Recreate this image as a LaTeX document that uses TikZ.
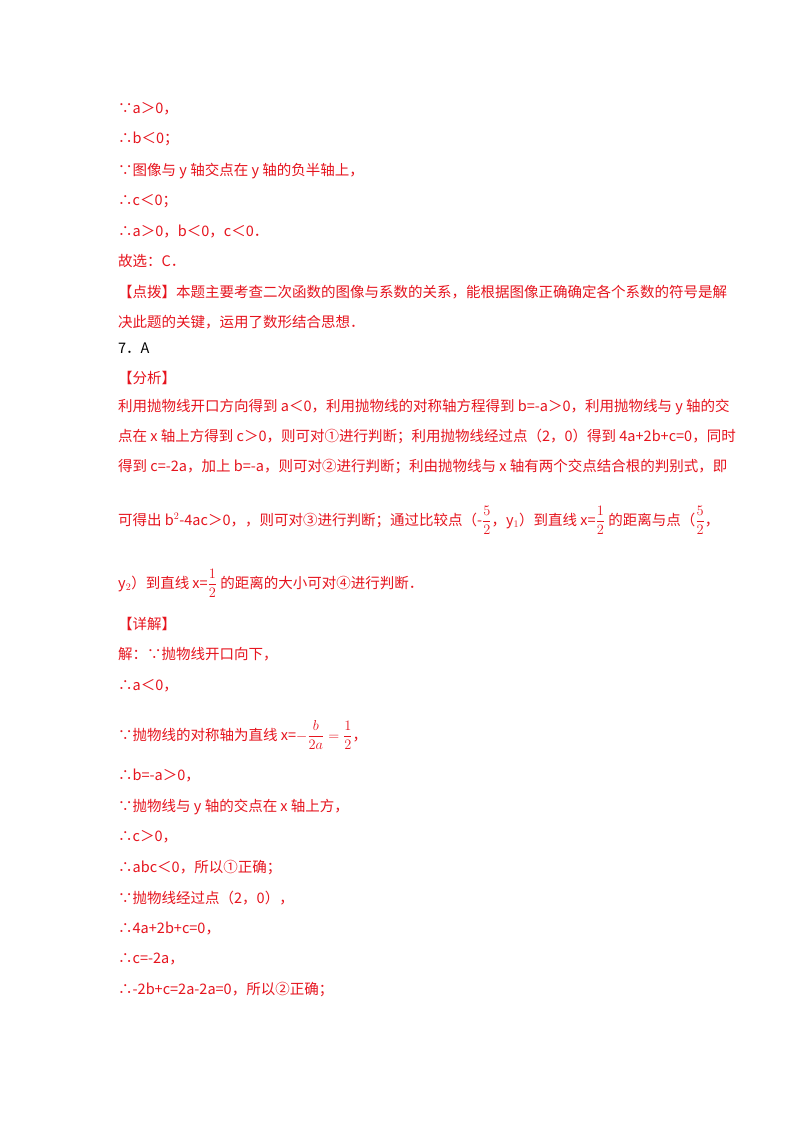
\documentclass[tikz,border=0pt]{standalone}
\usepackage{fontspec}
\setmainfont{Noto Sans CJK SC}
\definecolor{rd}{RGB}{230,20,30}
\begin{document}
\begin{tikzpicture}[x=1pt,y=-1pt,
  ln/.style={anchor=base west,inner sep=0pt,font=\fontsize{14.5}{16}\selectfont,text=rd},
  bk/.style={ln,text=black}]
\useasboundingbox[fill=white] (0,0) rectangle (800,1132);
\node[ln] (l1) at (118,113) {∵a＞0，};
\node[ln] (l2) at (118,143) {∴b＜0；};
\node[ln] (l3) at (118,175) {∵图像与 y 轴交点在 y 轴的负半轴上，};
\node[ln] (l4) at (118,205) {∴c＜0；};
\node[ln] (l5) at (118,236) {∴a＞0，b＜0，c＜0．};
\node[ln] (l6) at (118,266) {故选：C．};
\node[ln] (l7) at (118,297) {【点拨】本题主要考查二次函数的图像与系数的关系，能根据图像正确确定各个系数的符号是解};
\node[ln] (l8) at (118,327) {决此题的关键，运用了数形结合思想．};
\node[bk] (l9) at (118,353) {7．A};
\node[ln] (l10) at (118,383) {【分析】};
\node[ln] (l11) at (118,411) {利用抛物线开口方向得到 a＜0，利用抛物线的对称轴方程得到 b=-a＞0，利用抛物线与 y 轴的交};
\node[ln] (l12) at (118,441) {点在 x 轴上方得到 c＞0，则可对①进行判断；利用抛物线经过点（2，0）得到 4a+2b+c=0，同时};
\node[ln] (l13) at (118,471) {得到 c=-2a，加上 b=-a，则可对②进行判断；利由抛物线与 x 轴有两个交点结合根的判别式，即};
\node[ln] (l14) at (118,525) {可得出 b$^2$-4ac＞0，，则可对③进行判断；通过比较点（-$\displaystyle\frac{5}{2}$，y$_1$）到直线 x=$\displaystyle\frac{1}{2}$ 的距离与点（$\displaystyle\frac{5}{2}$，};
\node[ln] (l15) at (118,588) {y$_2$）到直线 x=$\displaystyle\frac{1}{2}$ 的距离的大小可对④进行判断．};
\node[ln] (l16) at (118,629) {【详解】};
\node[ln] (l17) at (118,659) {解：∵抛物线开口向下，};
\node[ln] (l18) at (118,690) {∴a＜0，};
\node[ln] (l19) at (118,740) {∵抛物线的对称轴为直线 x=$-\displaystyle\frac{b}{2a}=\frac{1}{2}$，};
\node[ln] (l20) at (118,780) {∴b=-a＞0，};
\node[ln] (l21) at (118,811) {∵抛物线与 y 轴的交点在 x 轴上方，};
\node[ln] (l22) at (118,841) {∴c＞0，};
\node[ln] (l23) at (118,872) {∴abc＜0，所以①正确；};
\node[ln] (l24) at (118,903) {∵抛物线经过点（2，0），};
\node[ln] (l25) at (118,933) {∴4a+2b+c=0，};
\node[ln] (l26) at (118,963) {∴c=-2a，};
\node[ln] (l27) at (118,994) {∴-2b+c=2a-2a=0，所以②正确；};
\end{tikzpicture}
\end{document}
